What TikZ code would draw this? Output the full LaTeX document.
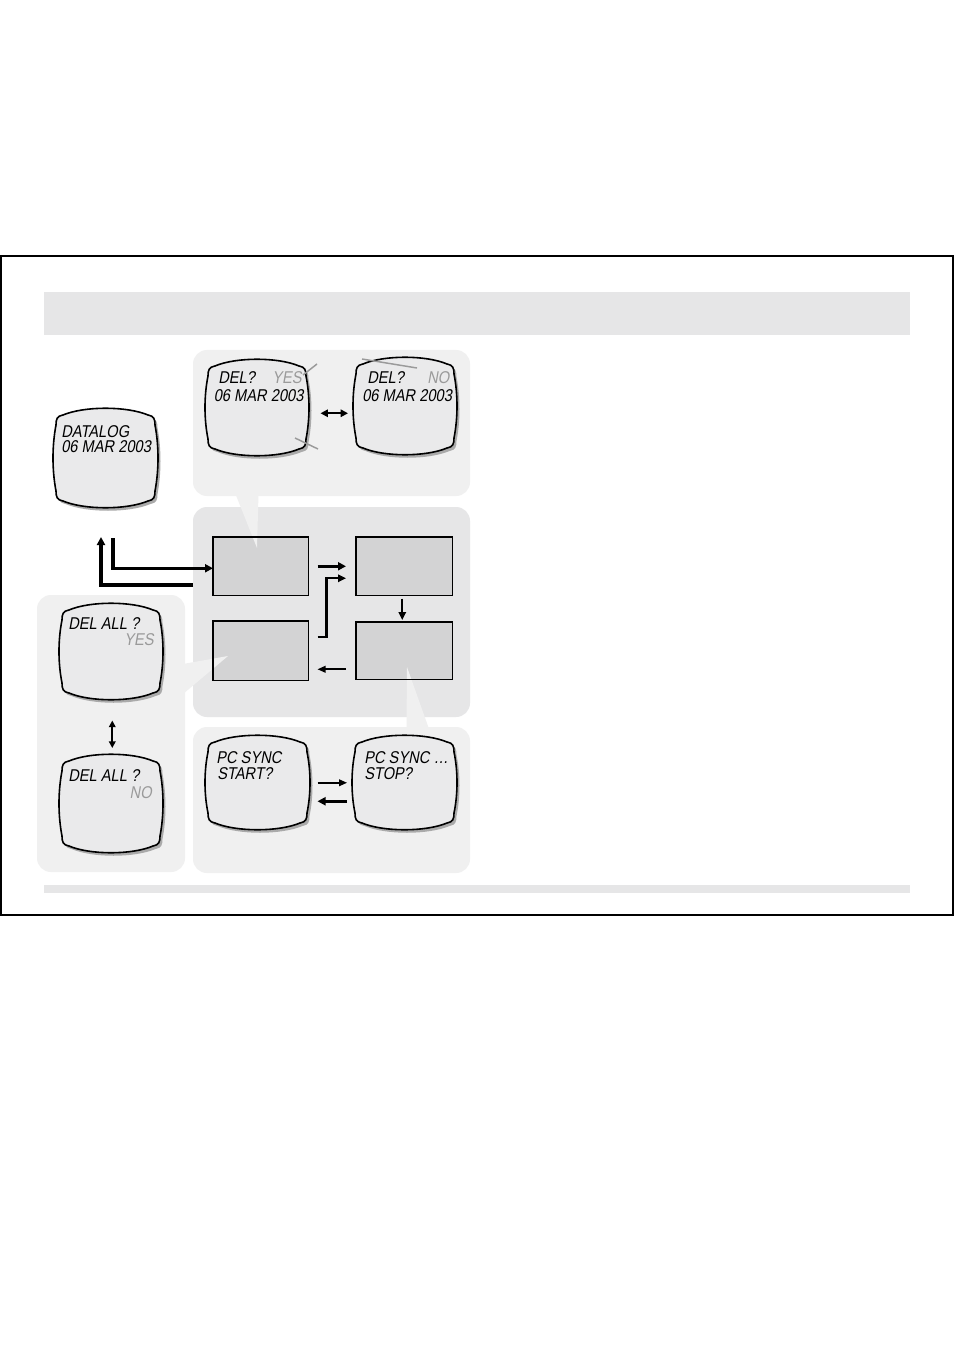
\documentclass[tikz,border=0pt]{standalone}
\usepackage{fontspec}
\newfontfamily\lcd{Liberation Sans}[FakeStretch=0.86,FakeSlant=0.18]
\usetikzlibrary{arrows.meta,calc}
\definecolor{barg}{HTML}{E6E6E7}
\definecolor{panelL}{HTML}{F0F0F0}
\definecolor{panelD}{HTML}{E6E6E7}
\definecolor{scrg}{HTML}{EAEAEB}
\definecolor{boxg}{HTML}{D3D3D4}
\definecolor{faint}{HTML}{9A9A9A}
\definecolor{shad}{HTML}{AAAAAA}
\tikzset{
  panel/.style={rounded corners=10.5pt},
  cbox/.style={fill=boxg, inner sep=0pt, anchor=north west},
  lcdtext/.style={font=\lcd\fontsize{12.8}{14}\selectfont, inner sep=0pt, anchor=base west},
  dimtext/.style={lcdtext, text=faint},
  thickarrow/.style={line width=2.3pt, -{Triangle[length=6pt,width=6pt]}},
  medarrow/.style={line width=1.6pt, -{Triangle[length=6pt,width=5.5pt]}},
  thinarrow/.style={line width=1.2pt, -{Triangle[length=6pt,width=5pt]}},
  dblarrow/.style={line width=1.8pt, {Triangle[length=5.5pt,width=5.5pt]}-{Triangle[length=5.5pt,width=5.5pt]}},
  dblthin/.style={line width=1.2pt, {Triangle[length=5pt,width=5pt]}-{Triangle[length=5pt,width=5pt]}},
  mark line/.style={draw=faint, line width=1.1pt}
}
% screen: name, x, y, w, h
\newcommand\lcdscreen[5]{%
  \begin{scope}[shift={(#2,#3)}]
    \def\sw{#4}\def\sh{#5}%
    \fill[shad, shift={(2.5,3)}] (10,7) .. controls ({0.3*\sw},-2) and ({0.7*\sw},-2) .. ({\sw-10},7)
      .. controls ({\sw-4},8) and ({\sw-3},11) .. ({\sw-3},17)
      .. controls ({\sw+1},{0.38*\sh}) and ({\sw+1},{0.62*\sh}) .. ({\sw-3},{\sh-17})
      .. controls ({\sw-3},{\sh-11}) and ({\sw-4},{\sh-8}) .. ({\sw-10},{\sh-7})
      .. controls ({0.7*\sw},{\sh+2}) and ({0.3*\sw},{\sh+2}) .. (10,{\sh-7})
      .. controls (4,{\sh-8}) and (3,{\sh-11}) .. (3,{\sh-17})
      .. controls (-1,{0.62*\sh}) and (-1,{0.38*\sh}) .. (3,17)
      .. controls (3,11) and (4,8) .. cycle;
    \filldraw[fill=scrg, draw=black, line width=1.2pt] (10,7) .. controls ({0.3*\sw},-2) and ({0.7*\sw},-2) .. ({\sw-10},7)
      .. controls ({\sw-4},8) and ({\sw-3},11) .. ({\sw-3},17)
      .. controls ({\sw+1},{0.38*\sh}) and ({\sw+1},{0.62*\sh}) .. ({\sw-3},{\sh-17})
      .. controls ({\sw-3},{\sh-11}) and ({\sw-4},{\sh-8}) .. ({\sw-10},{\sh-7})
      .. controls ({0.7*\sw},{\sh+2}) and ({0.3*\sw},{\sh+2}) .. (10,{\sh-7})
      .. controls (4,{\sh-8}) and (3,{\sh-11}) .. (3,{\sh-17})
      .. controls (-1,{0.62*\sh}) and (-1,{0.38*\sh}) .. (3,17)
      .. controls (3,11) and (4,8) .. cycle;
    \node[inner sep=0pt, minimum width={#4*0.75pt}, minimum height={#5*0.75pt}, anchor=north west] (#1) at (0,0) {};
  \end{scope}}
\begin{document}
\begin{tikzpicture}[x=0.75pt, y=-0.75pt]
\useasboundingbox (0,0) rectangle (954,1351);
\fill[white] (0,0) rectangle (954,1351);
% frame and bars
\draw[line width=1pt] (1,256) rectangle (953,915);
\fill[barg] (44,292) rectangle (910,335);
\fill[barg] (44,885) rectangle (910,893);
% panels
\fill[panelL, panel] (193,350) rectangle (470,496);
\fill[panelD, panel] (193,507) rectangle (470,717);
\fill[panelL, panel] (37,595) rectangle (185,872);
\fill[panelL, panel] (193,727) rectangle (470,873);
% centre boxes
\node[cbox, minimum width=71.25pt, minimum height=43.5pt] (b1) at (213,537) {};
\node[cbox, minimum width=72pt, minimum height=43.5pt] (b2) at (356,537) {};
\node[cbox, minimum width=71.25pt, minimum height=44.25pt] (b3) at (213,621) {};
\node[cbox, minimum width=72pt, minimum height=42.75pt] (b4) at (356,622) {};
% callout wedges
\fill[panelL] (235.5,494) -- (258.5,494) -- (257,548) -- cycle;
\fill[panelL] (183,664) -- (228,656) -- (183,694) -- cycle;
\fill[panelL] (406.5,729) -- (407,667) -- (429,729) -- cycle;
\foreach \b in {b1,b2,b3,b4}
  \draw[line width=1.2pt] (\b.north west) rectangle (\b.south east);
% screens
\lcdscreen{dl}{53}{408}{105}{100}
\lcdscreen{del1}{205}{359}{104}{97}
\lcdscreen{del2}{353}{357}{104}{98}
\lcdscreen{dya}{59}{603}{104}{97}
\lcdscreen{dyn}{59}{754}{104}{99}
\lcdscreen{pc1}{205}{735}{105}{95}
\lcdscreen{pc2}{352}{735}{105}{95}
% screen texts
\node[lcdtext] (t1) at (61,437) {DATALOG};
\node[lcdtext] (t2) at (61,452) {06 MAR 2003};
\node[lcdtext] (t3) at (218,383) {DEL?};
\node[dimtext] (t4) at (272,383) {YES};
\node[lcdtext] (t5) at (213.5,402) {06 MAR 2003};
\node[lcdtext] (t6) at (367,383) {DEL?};
\node[dimtext] (t7) at (427,383) {NO};
\node[lcdtext] (t8) at (362,402) {06 MAR 2003};
\node[lcdtext] (t9) at (68,629) {DEL ALL ?};
\node[dimtext, anchor=base east] (t10) at (154,645) {YES};
\node[lcdtext] (t11) at (68,781) {DEL ALL ?};
\node[dimtext, anchor=base east] (t12) at (152,798) {NO};
\node[lcdtext] (t13) at (216,763) {PC SYNC};
\node[lcdtext] (t14) at (217,779) {START?};
\node[lcdtext] (t15) at (364,763) {PC SYNC …};
\node[lcdtext] (t16) at (364,779) {STOP?};
% grey marks on DEL screens
\draw[mark line] (303,375) -- (317,364);
\draw[mark line] (295,438) -- (318,449);
\draw[mark line] (362,359) -- (417,368);
% connectors
\coordinate (dlout) at (113,538);
\coordinate (dlin) at (101,537);
\coordinate (retstart) at (193,585);
\draw[thickarrow] (dlout) |- ($(b1.west)+(0,2)$);
\draw[thickarrow] (retstart) -| (dlin);
\draw[thickarrow] ($(b1.east)+(9,0)$) -- ($(b2.west)+(-10,0)$);
\draw[medarrow] ($(b3.east)+(9,-13.5)$) -- ++(9,0) |- ($(b2.west)+(-10,12)$);
\draw[medarrow] ($(b2.south)+(-2,3)$) -- ($(b4.north)+(-2,-2)$);
\draw[thinarrow] ($(b4.west)+(-10,18.5)$) -- ($(b3.east)+(9,18.5)$);
\draw[dblarrow] ($(del1.east)+(11,5.5)$) -- ($(del2.west)+(-5,7)$);
\draw[dblthin] ($(dya.south)+(1,20)$) -- ($(dyn.north)+(1,-6)$);
\draw[thinarrow] ($(pc1.east)+(7,0)$) -- ($(pc2.west)+(-5,0)$);
\draw[thickarrow] ($(pc2.west)+(-5,18.5)$) -- ($(pc1.east)+(7,18.5)$);
\end{tikzpicture}
\end{document}
